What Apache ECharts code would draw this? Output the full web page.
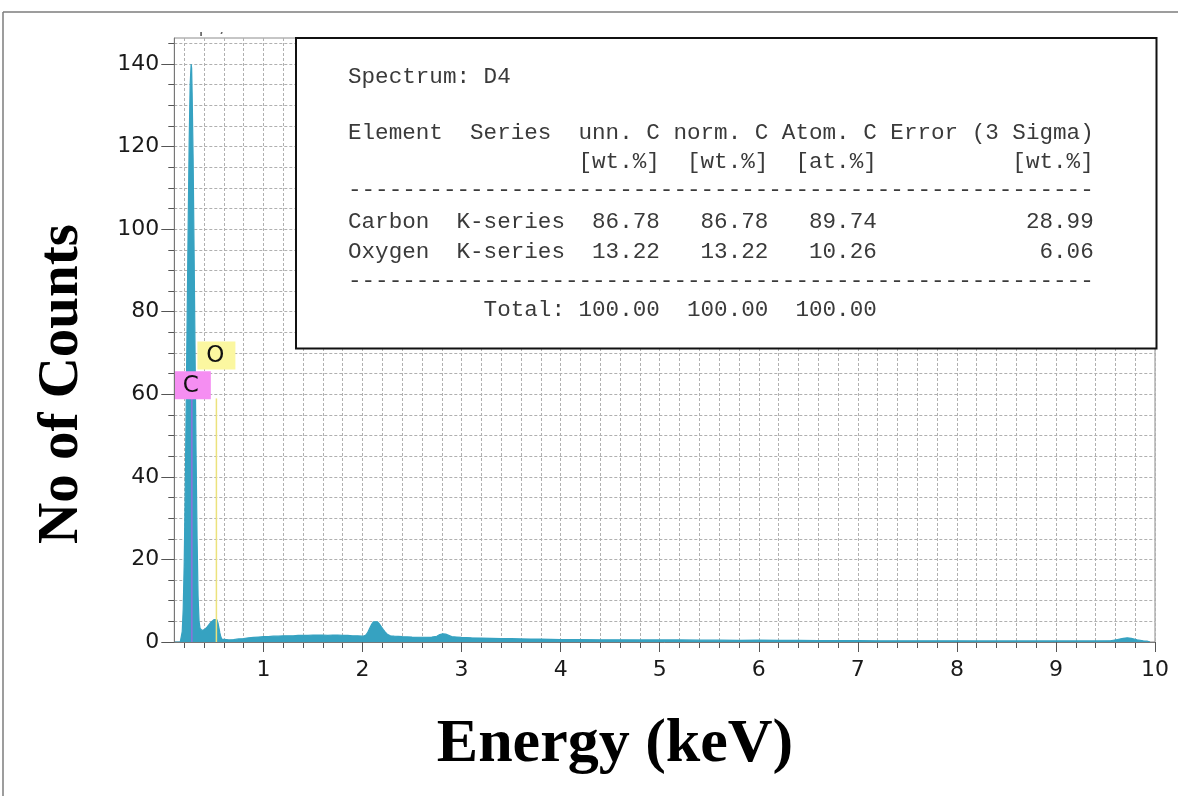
<!DOCTYPE html>
<html><head><meta charset="utf-8">
<script src="https://cdn.jsdelivr.net/npm/echarts@6.0.0/dist/echarts.min.js"></script>
<style>html,body{margin:0;padding:0;background:#fff}#c{width:1178px;height:796px}</style>
</head><body><div id="c"></div>
<script>
// ---- spectrum data ----
const energyKeV = [0.10,0.16,0.17,0.18,0.19,0.20,0.21,0.22,0.23,0.24,0.25,0.26,0.27,0.275,0.28,0.29,0.30,0.31,0.32,0.33,0.34,0.35,0.36,0.37,0.38,0.39,0.40,0.41,0.42,0.43,0.44,0.45,0.46,0.47,0.48,0.49,0.50,0.51,0.52,0.53,0.54,0.55,0.56,0.57,0.58,0.59,0.60,0.65,0.70,0.75,0.80,0.85,0.90,0.95,1.00,1.05,1.10,1.15,1.20,1.25,1.30,1.35,1.40,1.45,1.50,1.55,1.60,1.65,1.70,1.75,1.80,1.85,1.90,1.95,2.00,2.03,2.05,2.07,2.09,2.11,2.13,2.15,2.17,2.19,2.21,2.23,2.25,2.28,2.32,2.40,2.50,2.60,2.70,2.75,2.78,2.81,2.84,2.87,2.90,2.95,3.00,3.10,3.20,3.30,3.40,3.50,3.60,3.70,3.80,3.90,4.00,4.20,4.40,4.60,4.80,5.00,5.20,5.40,5.60,5.80,6.00,6.20,6.40,6.60,6.80,7.00,7.20,7.40,7.60,7.80,8.00,8.20,8.40,8.60,8.80,9.00,9.20,9.40,9.55,9.62,9.68,9.72,9.76,9.82,9.88,9.92,9.95];
const counts    = [0,0,0.4,2.5,8,19,36,57,79,101,121,135,140,139,133,117,94,69,45,25,11,5,3.3,3.0,2.8,2.9,2.9,3.1,3.3,3.6,3.9,4.2,4.5,4.8,5.0,5.2,5.4,5.5,5.6,5.4,4.7,3.5,2.2,1.2,0.7,0.5,0.45,0.5,0.6,0.75,0.85,1.0,1.1,1.2,1.3,1.3,1.4,1.4,1.5,1.5,1.5,1.6,1.6,1.6,1.7,1.7,1.7,1.6,1.7,1.7,1.6,1.6,1.5,1.5,1.4,1.6,2.2,3.2,4.2,4.9,5.1,4.9,4.4,3.7,3.0,2.4,1.9,1.5,1.4,1.3,1.2,1.15,1.2,1.4,1.8,2.0,1.9,1.6,1.3,1.2,1.1,1.0,0.95,0.9,0.85,0.8,0.75,0.7,0.7,0.65,0.6,0.6,0.55,0.55,0.5,0.5,0.5,0.45,0.45,0.4,0.45,0.4,0.4,0.35,0.35,0.35,0.3,0.3,0.3,0.3,0.3,0.25,0.25,0.25,0.25,0.25,0.25,0.25,0.3,0.6,0.9,1.0,0.9,0.5,0.3,0.2,0];

// ---- axes ----
const xTickLabels = [1,2,3,4,5,6,7,8,9,10];
const yTickLabels = [0,20,40,60,80,100,120,140];
const xMinorTicks = []; for (let k = 1; k <= 50; k++) xMinorTicks.push(Math.round(k * 2) / 10);
const yMinorTicks = []; for (let k = 0; k <= 29; k++) yMinorTicks.push(k * 5);

// ---- element markers ----
const elementNames  = ['C', 'O'];
const elementEnergy = [0.277, 0.525];
const markerTop     = [59, 59];
const labelLevel    = [62.2, 69.4];
const markerLineColors = ['#8f72dc', '#ece27c'];
const markerBoxColors  = ['#f58ef2', '#fbf7a0'];

// ---- quantification table ----
const spectrumName = 'D4';
const tblElement = ['Carbon', 'Oxygen'];
const tblSeries  = ['K-series', 'K-series'];
const tblUnnC  = ['86.78', '13.22'];
const tblNormC = ['86.78', '13.22'];
const tblAtomC = ['89.74', '10.26'];
const tblError = ['28.99', '6.06'];
const tblTotals = ['100.00', '100.00', '100.00'];

const dashes = '-'.repeat(55);
const tableLines = [
  ['Spectrum: ' + spectrumName, 76.7],
  ['Element  Series  unn. C norm. C Atom. C Error (3 Sigma)', 133.3],
  [' '.repeat(17) + '[wt.%]  [wt.%]  [at.%]' + ' '.repeat(10) + '[wt.%]', 162],
  [dashes, 190.5],
];
tblElement.forEach((el, i) => {
  const s = el.padEnd(8) + tblSeries[i].padEnd(10) + tblUnnC[i].padEnd(8) + tblNormC[i].padEnd(8) + tblAtomC[i] + tblError[i].padStart(16);
  tableLines.push([s, 221.7 + i * 30]);
});
tableLines.push([dashes, 281.5]);
tableLines.push([' '.repeat(10) + 'Total: ' + tblTotals.join('  '), 310]);

const teal = '#36a2c1';
const gridColor = '#b0b0b0';
const chart = echarts.init(document.getElementById('c'));

const graphics = [
  {type:'text', x:188, y:27.5, z:50, style:{text:'cps/eV', font:'19px "DejaVu Sans"', fill:'#666', verticalAlign:'middle'}},
  {type:'rect', z:51, shape:{x:180, y:13, width:100, height:19}, style:{fill:'#fff'}},
  {type:'line', z:60, shape:{x1:3, y1:12, x2:1178, y2:12}, style:{stroke:'#7d7d7d', lineWidth:1.5}},
  {type:'line', z:60, shape:{x1:3, y1:12, x2:3, y2:796}, style:{stroke:'#7d7d7d', lineWidth:1.5}},
  {type:'rect', z:100, shape:{x:296, y:38, width:860.5, height:310.5}, style:{fill:'#fff', stroke:'#111', lineWidth:2}},
  {type:'text', z:60, x:62, y:384, rotation:Math.PI/2, style:{text:'No of Counts', font:'bold 57px "Liberation Serif"', fill:'#000', align:'center', verticalAlign:'middle'}},
  {type:'text', z:60, x:615, y:745, style:{text:'Energy (keV)', font:'bold 62px "Liberation Serif"', fill:'#000', align:'center', verticalAlign:'middle'}}
];
tableLines.forEach(([t, y]) => {
  graphics.push({type:'text', z:101, x:348, y:y, style:{text:t, font:'22.6px "Liberation Mono"', fill:'#3a3a3a', verticalAlign:'middle'}});
});

const option = {
  animation: false,
  backgroundColor: '#fff',
  grid: {left:174.3, right:23, top:38, bottom:154, show:true, borderColor:'#8c8c8c', borderWidth:1, backgroundColor:'#fff', outerBoundsMode:'none', containLabel:false},
  xAxis: [
    {
      type:'value', min:0.1, max:10, position:'bottom', z:5,
      axisLine:{show:true, onZero:false, lineStyle:{color:'#777', width:1}},
      axisTick:{show:true, customValues:xTickLabels, length:10, lineStyle:{color:'#555', width:1}},
      axisLabel:{show:true, customValues:xTickLabels, margin:17, fontSize:22, fontFamily:'DejaVu Sans', color:'#1a1a1a', formatter:(v)=>String(Math.round(v))},
      splitLine:{show:false}
    },
    {
      type:'value', min:0.1, max:10, position:'bottom', z:0,
      axisLine:{show:false},
      axisTick:{show:true, customValues:xMinorTicks, length:6, lineStyle:{color:'#555', width:1}},
      axisLabel:{show:false},
      splitLine:{show:true, lineStyle:{color:gridColor, type:[3,2], width:1}}
    }
  ],
  yAxis: [
    {
      type:'value', min:0, max:146.3, position:'left', z:5,
      axisLine:{show:true, onZero:false, lineStyle:{color:'#777', width:1}},
      axisTick:{show:true, customValues:yTickLabels, length:13, lineStyle:{color:'#555', width:1}},
      axisLabel:{show:true, customValues:yTickLabels, margin:15, fontSize:22, fontFamily:'DejaVu Sans', color:'#1a1a1a'},
      splitLine:{show:false}
    },
    {
      type:'value', min:0, max:146.3, position:'left', z:0,
      axisLine:{show:false},
      axisTick:{show:true, customValues:yMinorTicks, length:6, lineStyle:{color:'#555', width:1}},
      axisLabel:{show:false},
      splitLine:{show:true, lineStyle:{color:gridColor, type:[3,2], width:1}}
    }
  ],
  series: [
    {
      type:'line', xAxisIndex:0, yAxisIndex:0, z:2,
      data: energyKeV.map((e, i) => [e, counts[i]]),
      showSymbol:false, symbol:'none', smooth:false,
      lineStyle:{color:teal, width:1.2},
      areaStyle:{color:teal, opacity:1}
    },
    {
      type:'custom', xAxisIndex:0, yAxisIndex:0, z:3,
      data: elementEnergy.map((e, i) => [e, markerTop[i], labelLevel[i]]),
      renderItem: (params, api) => {
        const i = params.dataIndex;
        const e = api.value(0);
        const base = api.coord([e, 0]);
        const top = api.coord([e, api.value(1)]);
        const lab = api.coord([e, api.value(2)]);
        const cs = params.coordSys;
        const r = echarts.graphic.clipRectByRect({x:lab[0]-19, y:lab[1]-14, width:38, height:28}, {x:cs.x, y:cs.y, width:cs.width, height:cs.height});
        return {type:'group', children:[
          {type:'line', shape:{x1:base[0], y1:base[1], x2:top[0], y2:top[1]}, style:{stroke:markerLineColors[i], lineWidth:1.5}},
          {type:'rect', shape:r, style:{fill:markerBoxColors[i]}},
          {type:'text', style:{x:lab[0]-1, y:lab[1]+1, text:elementNames[i], font:'23px "DejaVu Sans"', fill:'#111', align:'center', verticalAlign:'middle'}}
        ]};
      }
    }
  ],
  graphic: graphics
};
chart.setOption(option);
</script></body></html>
